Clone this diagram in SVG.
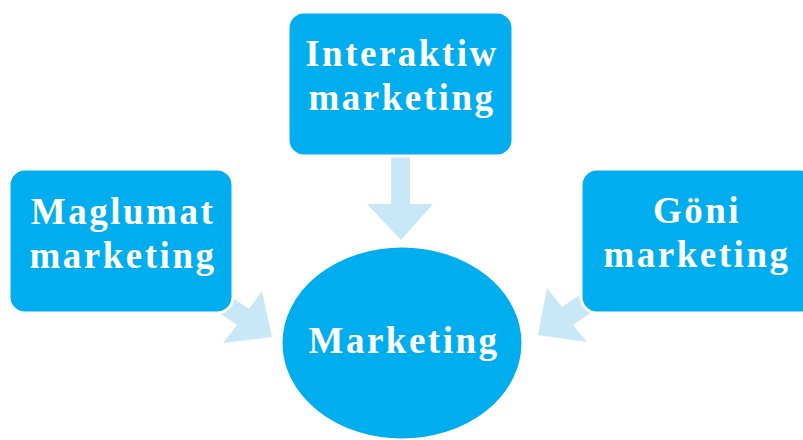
<svg xmlns="http://www.w3.org/2000/svg" width="803" height="440" viewBox="0 0 803 440">
  <style>
    .box { fill: #00AEEF; stroke: #FFFFFF; stroke-width: 3; }
    .arrow { fill: #C8E8F8; }
    .lbl { font-family: "Liberation Serif", "DejaVu Serif", serif; font-weight: bold; font-size: 37px; fill: #FFFFFF; text-anchor: middle; letter-spacing: 2.5px; }
  </style>
  <rect width="803" height="440" fill="#FFFFFF"/>
  <g id="connectors">
    <polygon class="arrow" points="391,156 410,156 410,204 433,204 401,240 367,204 391,204"/>
    <polygon class="arrow" points="224,292 249,309 262,291 272,337 223,343 237,325 212,308"/>
    <polygon class="arrow" points="587,290 562,307 547,288 538,335 587,342 573,325 598,308"/>
  </g>
  <g id="node-maglumat">
    <rect class="box" x="9" y="169" width="224" height="144" rx="16"/>
    <text class="lbl" x="123" y="224">Maglumat</text>
    <text class="lbl" x="123" y="268">marketing</text>
  </g>
  <g id="node-interaktiw">
    <rect class="box" x="288" y="12" width="225" height="144" rx="16"/>
    <text class="lbl" x="402" y="66">Interaktiw</text>
    <text class="lbl" x="402" y="110">marketing</text>
  </g>
  <g id="node-goni">
    <rect class="box" x="581" y="169" width="235" height="144" rx="16"/>
    <text class="lbl" x="697" y="223">Göni</text>
    <text class="lbl" x="697" y="267">marketing</text>
  </g>
  <g id="node-marketing">
    <ellipse class="box" cx="402" cy="343" rx="121" ry="97"/>
    <text class="lbl" x="404" y="353">Marketing</text>
  </g>
</svg>
